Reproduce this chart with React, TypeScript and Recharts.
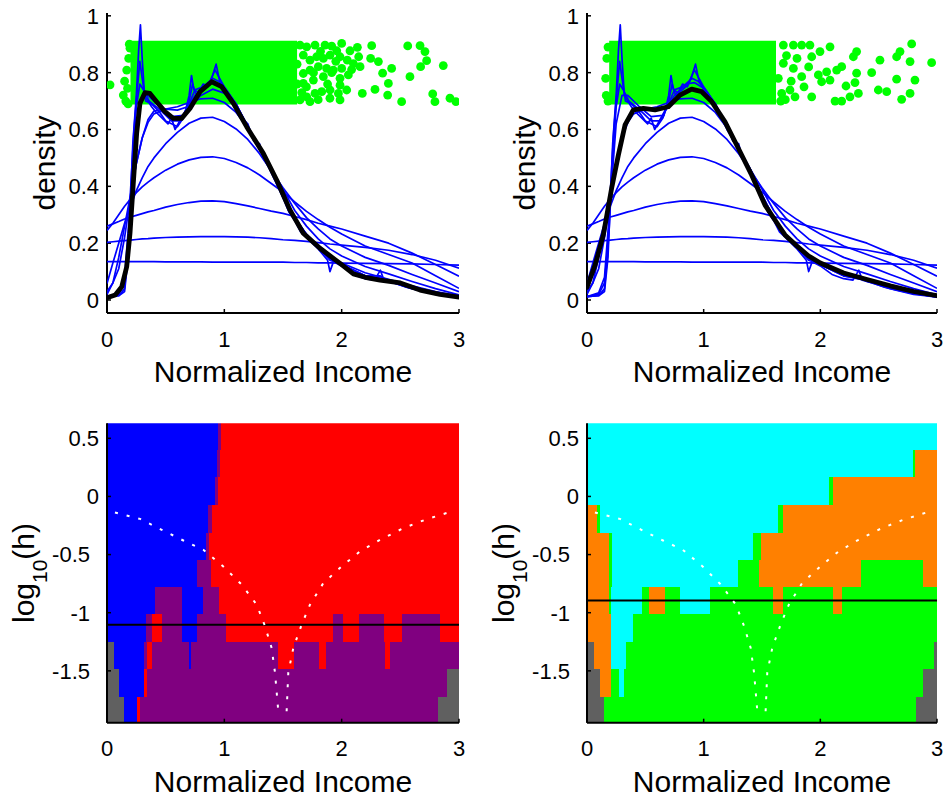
import React from 'react';
import { ComposedChart, XAxis, YAxis, Scatter, ReferenceArea, ReferenceLine } from 'recharts';

const FONT = '"Liberation Sans", Arial, Helvetica, sans-serif';

// ---------- axes ----------
const X_TICKS = [0, 1, 2, 3];
const X_DOMAIN = [0, 3];
const DENSITY_TICKS = [0, 0.2, 0.4, 0.6, 0.8, 1];
const DENSITY_DOMAIN = [-0.0457, 1.0099];
const LOGH_TICKS = [-1.5, -1, -0.5, 0, 0.5];
const LOGH_DOMAIN = [-1.946, 0.629];

// ---------- family of kernel density estimates (common x grid) ----------
const X_GRID = [0, 0.05, 0.1, 0.15, 0.2, 0.25, 0.3, 0.35, 0.4, 0.5, 0.6, 0.7, 0.8, 0.9, 1.0, 1.1, 1.2, 1.3, 1.4, 1.5, 1.6, 1.7, 1.8, 1.9, 2.0, 2.2, 2.4, 2.6, 2.8, 3.0];
const BW1 = [0.135, 0.135, 0.135, 0.135, 0.135, 0.135, 0.135, 0.135, 0.135, 0.134, 0.134, 0.134, 0.134, 0.133, 0.133, 0.133, 0.133, 0.133, 0.133, 0.133, 0.132, 0.132, 0.131, 0.131, 0.130, 0.129, 0.128, 0.127, 0.125, 0.123];
const BW2 = [0.203, 0.205, 0.207, 0.209, 0.211, 0.213, 0.215, 0.216, 0.218, 0.220, 0.221, 0.222, 0.223, 0.223, 0.223, 0.222, 0.221, 0.219, 0.216, 0.212, 0.210, 0.206, 0.202, 0.197, 0.193, 0.185, 0.175, 0.160, 0.140, 0.112];
const BW3 = [0.260, 0.268, 0.276, 0.285, 0.292, 0.298, 0.304, 0.310, 0.315, 0.327, 0.336, 0.343, 0.348, 0.349, 0.346, 0.339, 0.331, 0.322, 0.313, 0.305, 0.294, 0.283, 0.270, 0.260, 0.250, 0.225, 0.200, 0.165, 0.125, 0.084];
const BW4 = [0.245, 0.270, 0.300, 0.330, 0.355, 0.378, 0.398, 0.415, 0.430, 0.457, 0.478, 0.493, 0.502, 0.504, 0.498, 0.484, 0.465, 0.440, 0.410, 0.380, 0.345, 0.312, 0.283, 0.256, 0.232, 0.190, 0.160, 0.130, 0.085, 0.041];
const BW5 = [0.058, 0.130, 0.200, 0.270, 0.330, 0.385, 0.430, 0.470, 0.500, 0.550, 0.590, 0.622, 0.640, 0.643, 0.628, 0.602, 0.565, 0.515, 0.455, 0.395, 0.340, 0.290, 0.250, 0.215, 0.190, 0.150, 0.122, 0.090, 0.060, 0.029];
const BW6 = [0.030, 0.060, 0.110, 0.220, 0.360, 0.480, 0.570, 0.625, 0.655, 0.672, 0.680, 0.695, 0.708, 0.710, 0.695, 0.660, 0.605, 0.535, 0.460, 0.390, 0.315, 0.260, 0.215, 0.180, 0.155, 0.118, 0.092, 0.065, 0.040, 0.018];
const BW7 = [0.020, 0.060, 0.150, 0.260, 0.370, 0.480, 0.570, 0.635, 0.665, 0.672, 0.668, 0.682, 0.720, 0.742, 0.728, 0.684, 0.612, 0.534, 0.448, 0.360, 0.286, 0.232, 0.190, 0.156, 0.130, 0.096, 0.073, 0.050, 0.030, 0.015];

// small-bandwidth (wiggly) estimates, [x, density]
const BW8 = [[0, 0.012], [0.1, 0.025], [0.15, 0.08], [0.2, 0.35], [0.25, 0.62], [0.3, 0.72], [0.35, 0.72], [0.45, 0.68], [0.55, 0.645], [0.65, 0.65], [0.75, 0.72], [0.85, 0.76], [0.92, 0.765], [1.0, 0.745], [1.1, 0.69], [1.2, 0.61], [1.3, 0.53], [1.4, 0.45], [1.5, 0.365], [1.6, 0.29], [1.7, 0.23], [1.8, 0.185], [1.9, 0.148], [2.0, 0.125], [2.2, 0.085], [2.4, 0.068], [2.6, 0.045], [2.8, 0.025], [3, 0.012]];
const BW9 = [[0, 0.012], [0.1, 0.02], [0.15, 0.06], [0.19, 0.25], [0.22, 0.5], [0.25, 0.68], [0.28, 0.76], [0.31, 0.74], [0.36, 0.7], [0.45, 0.67], [0.55, 0.63], [0.62, 0.63], [0.7, 0.69], [0.75, 0.74], [0.82, 0.75], [0.9, 0.78], [0.95, 0.77], [1.0, 0.75], [1.1, 0.69], [1.2, 0.61], [1.3, 0.53], [1.4, 0.455], [1.5, 0.37], [1.6, 0.29], [1.7, 0.23], [1.8, 0.185], [1.9, 0.145], [2.0, 0.125], [2.2, 0.085], [2.35, 0.075], [2.5, 0.06], [2.7, 0.035], [2.85, 0.02], [3, 0.011]];
const BW10 = [[0, 0.012], [0.1, 0.015], [0.15, 0.04], [0.18, 0.18], [0.2, 0.38], [0.23, 0.6], [0.26, 0.75], [0.28, 0.84], [0.3, 0.78], [0.33, 0.7], [0.38, 0.69], [0.45, 0.66], [0.5, 0.63], [0.55, 0.62], [0.6, 0.61], [0.65, 0.64], [0.7, 0.7], [0.73, 0.76], [0.76, 0.72], [0.82, 0.74], [0.87, 0.76], [0.92, 0.81], [0.96, 0.78], [1.0, 0.75], [1.1, 0.69], [1.2, 0.6], [1.3, 0.53], [1.4, 0.46], [1.5, 0.37], [1.6, 0.29], [1.7, 0.23], [1.8, 0.185], [1.9, 0.14], [2.0, 0.125], [2.2, 0.085], [2.33, 0.085], [2.4, 0.065], [2.6, 0.04], [2.8, 0.022], [3, 0.011]];
const BW11 = [[0, 0.012], [0.1, 0.015], [0.15, 0.03], [0.18, 0.15], [0.2, 0.35], [0.22, 0.55], [0.25, 0.72], [0.27, 0.88], [0.285, 0.968], [0.3, 0.85], [0.32, 0.72], [0.35, 0.7], [0.38, 0.68], [0.42, 0.66], [0.47, 0.64], [0.52, 0.62], [0.55, 0.64], [0.58, 0.6], [0.62, 0.63], [0.66, 0.65], [0.7, 0.72], [0.72, 0.79], [0.74, 0.74], [0.78, 0.73], [0.82, 0.76], [0.86, 0.75], [0.9, 0.79], [0.93, 0.83], [0.96, 0.77], [1.0, 0.74], [1.05, 0.71], [1.1, 0.69], [1.15, 0.64], [1.2, 0.62], [1.25, 0.56], [1.3, 0.55], [1.33, 0.5], [1.4, 0.46], [1.5, 0.36], [1.55, 0.31], [1.6, 0.28], [1.65, 0.24], [1.7, 0.22], [1.8, 0.18], [1.88, 0.14], [1.9, 0.1], [1.93, 0.135], [2.0, 0.12], [2.1, 0.09], [2.2, 0.075], [2.28, 0.07], [2.33, 0.105], [2.36, 0.07], [2.45, 0.06], [2.55, 0.045], [2.65, 0.035], [2.8, 0.02], [2.9, 0.015], [3, 0.01]];

// highlighted (black) estimates
const BLACK_LEFT = [[0, 0.008], [0.07, 0.018], [0.126, 0.047], [0.168, 0.117], [0.196, 0.235], [0.224, 0.41], [0.253, 0.587], [0.281, 0.692], [0.324, 0.73], [0.366, 0.727], [0.423, 0.698], [0.494, 0.663], [0.565, 0.639], [0.636, 0.639], [0.707, 0.674], [0.793, 0.733], [0.892, 0.768], [0.977, 0.751], [1.077, 0.692], [1.19, 0.61], [1.332, 0.516], [1.446, 0.422], [1.559, 0.317], [1.673, 0.235], [1.815, 0.182], [1.986, 0.129], [2.1, 0.092], [2.2, 0.08], [2.327, 0.07], [2.5, 0.06], [2.668, 0.035], [2.838, 0.02], [3, 0.01]];
const BLACK_RIGHT = [[0, 0.045], [0.069, 0.123], [0.14, 0.229], [0.211, 0.393], [0.269, 0.51], [0.326, 0.616], [0.397, 0.669], [0.483, 0.674], [0.583, 0.669], [0.697, 0.68], [0.797, 0.721], [0.897, 0.742], [0.983, 0.733], [1.069, 0.698], [1.183, 0.627], [1.297, 0.534], [1.411, 0.44], [1.526, 0.334], [1.64, 0.264], [1.697, 0.229], [1.8, 0.19], [1.9, 0.155], [2.0, 0.13], [2.2, 0.095], [2.4, 0.072], [2.6, 0.05], [2.8, 0.03], [3.0, 0.015]];

// jittered data points: dense core [x0, x1, y0, y1] plus individual points
const DENSE_LEFT = [0.2, 1.62, 0.688, 0.912];
const DENSE_RIGHT = [0.19, 1.62, 0.688, 0.912];
const GREEN_LEFT = [
  [0.026, 0.757], [0.139, 0.721], [0.168, 0.809], [0.18, 0.69], [0.196, 0.886], [0.15, 0.77], [0.175, 0.745], [0.185, 0.85], [0.19, 0.9], [0.16, 0.7],
  [1.645, 0.897], [1.702, 0.891], [1.773, 0.897], [1.858, 0.897], [1.915, 0.893], [2.0, 0.903],
  [1.673, 0.862], [1.73, 0.844], [1.787, 0.856], [1.844, 0.85], [1.901, 0.862], [1.958, 0.877], [1.986, 0.856],
  [2.048, 0.844], [2.1, 0.832], [2.157, 0.821], [2.085, 0.811],
  [1.673, 0.797], [1.73, 0.809], [1.801, 0.821], [1.872, 0.815], [1.929, 0.809], [2.0, 0.815],
  [1.673, 0.762], [1.759, 0.774], [1.844, 0.786], [1.915, 0.8], [1.986, 0.78], [2.057, 0.792],
  [1.645, 0.704], [1.702, 0.715], [1.73, 0.698], [1.773, 0.727], [1.83, 0.733], [1.901, 0.739], [1.972, 0.727], [1.986, 0.704], [1.986, 0.756], [2.043, 0.739],
  [1.66, 0.73], [1.7, 0.75], [1.76, 0.8], [1.82, 0.875], [1.88, 0.76], [1.95, 0.84], [1.8, 0.705], [1.9, 0.71], [1.62, 0.83], [1.62, 0.76],
  [2.071, 0.877], [2.134, 0.889], [2.145, 0.856], [2.256, 0.895], [2.247, 0.85], [2.313, 0.839], [2.426, 0.815], [2.349, 0.798], [2.398, 0.762], [2.392, 0.721], [2.284, 0.741], [2.176, 0.727],
  [2.563, 0.894], [2.668, 0.895], [2.71, 0.874], [2.724, 0.842], [2.673, 0.821], [2.866, 0.825], [2.582, 0.786], [2.511, 0.698], [2.776, 0.725], [2.795, 0.698], [2.923, 0.71], [2.974, 0.698],
];
const GREEN_RIGHT = [
  [0.16, 0.78], [0.165, 0.72], [0.17, 0.85], [0.18, 0.7], [0.18, 0.89],
  [1.683, 0.897], [1.769, 0.897], [1.84, 0.897], [1.911, 0.897], [2.083, 0.891], [1.997, 0.874], [1.926, 0.856],
  [2.311, 0.874], [2.283, 0.856], [2.511, 0.844], [2.683, 0.874], [2.654, 0.856], [2.769, 0.839], [2.783, 0.901], [2.954, 0.835],
  [2.183, 0.821], [2.14, 0.809], [2.054, 0.803], [2.083, 0.774], [2.311, 0.798], [2.44, 0.8],
  [2.22, 0.753], [2.297, 0.765], [2.326, 0.727], [2.254, 0.715], [2.497, 0.739], [2.569, 0.733], [2.654, 0.777], [2.811, 0.774], [2.769, 0.727], [2.697, 0.706],
  [2.126, 0.7], [2.183, 0.7], [1.926, 0.715], [2.011, 0.768], [1.983, 0.792], [1.769, 0.815], [1.683, 0.833], [1.84, 0.786], [1.74, 0.739], [1.669, 0.727], [1.783, 0.715],
  [1.64, 0.78], [1.71, 0.86], [1.8, 0.85], [1.86, 0.75], [1.75, 0.77], [1.66, 0.7], [1.9, 0.82], [1.7, 0.705],
];

// ---------- SiZer maps: log10(h) bin edges, then per row [x start, class] ----------
const ROW_EDGES = [0.629, 0.398, 0.163, -0.076, -0.312, -0.543, -0.782, -1.013, -1.249, -1.483, -1.722, -1.946];
const SIZER_LEFT = [
  [[0, 'B'], [0.95, 'P'], [0.975, 'R']],
  [[0, 'B'], [0.935, 'P'], [0.963, 'R']],
  [[0, 'B'], [0.92, 'P'], [0.95, 'R']],
  [[0, 'B'], [0.864, 'P'], [0.892, 'R']],
  [[0, 'B'], [0.844, 'P'], [0.872, 'R']],
  [[0, 'B'], [0.77, 'P'], [0.89, 'R']],
  [[0, 'B'], [0.409, 'P'], [0.636, 'B'], [0.821, 'P'], [0.957, 'R']],
  [[0, 'B'], [0.33, 'P'], [0.381, 'R'], [0.466, 'P'], [0.636, 'B'], [0.764, 'P'], [1.014, 'R'], [1.929, 'P'], [2.009, 'R'], [2.151, 'P'], [2.361, 'R'], [2.511, 'P'], [2.838, 'R']],
  [[0, 'G'], [0.06, 'B'], [0.313, 'P'], [0.34, 'R'], [0.381, 'P'], [0.696, 'B'], [0.713, 'P'], [1.46, 'R'], [1.594, 'P'], [1.81, 'R'], [1.866, 'P'], [2.369, 'R'], [2.412, 'P']],
  [[0, 'G'], [0.105, 'B'], [0.315, 'R'], [0.344, 'P'], [2.895, 'G']],
  [[0, 'G'], [0.145, 'B'], [0.253, 'R'], [0.281, 'P'], [2.824, 'G']],
];
const SIZER_RIGHT = [
  [[0, 'C']],
  [[0, 'C'], [2.791, 'N'], [2.814, 'O']],
  [[0, 'C'], [2.077, 'N'], [2.106, 'O']],
  [[0, 'O'], [0.083, 'N'], [0.111, 'C'], [1.634, 'N'], [1.683, 'O']],
  [[0, 'O'], [0.191, 'N'], [0.214, 'C'], [1.42, 'N'], [1.491, 'O']],
  [[0, 'O'], [0.191, 'N'], [0.214, 'C'], [1.291, 'N'], [1.477, 'O'], [2.349, 'N'], [2.877, 'O']],
  [[0, 'O'], [0.191, 'N'], [0.206, 'C'], [0.469, 'N'], [0.534, 'O'], [0.671, 'N'], [0.797, 'C'], [1.054, 'N'], [1.591, 'O'], [1.683, 'N'], [2.111, 'O'], [2.183, 'N']],
  [[0, 'O'], [0.206, 'C'], [0.391, 'N']],
  [[0, 'G'], [0.063, 'O'], [0.206, 'C'], [0.334, 'N'], [2.97, 'G']],
  [[0, 'G'], [0.111, 'O'], [0.206, 'N'], [0.277, 'C'], [0.314, 'N'], [2.877, 'G']],
  [[0, 'G'], [0.149, 'N'], [2.82, 'G']],
];
const H_LINE_LEFT = -1.103;
const H_LINE_RIGHT = -0.894;
// effective window (centre +- 2h) curves
const WINDOW_LEFT = [[0.068, -0.138], [0.281, -0.193], [0.466, -0.287], [0.651, -0.379], [0.821, -0.459], [0.991, -0.602], [1.148, -0.759], [1.276, -0.931], [1.347, -1.117], [1.403, -1.303], [1.432, -1.517], [1.46, -1.847]];
const WINDOW_RIGHT = [[1.531, -1.847], [1.545, -1.517], [1.588, -1.303], [1.659, -1.103], [1.73, -0.931], [1.844, -0.745], [2.0, -0.602], [2.156, -0.473], [2.327, -0.373], [2.526, -0.273], [2.71, -0.201], [2.909, -0.138]];

// ---------- styles ----------
const GREEN = '#00ff00';
const BLUE = '#0000ff';
const PALETTE_LEFT: Record<string, string> = { B: '#0000ff', R: '#ff0000', P: '#800080', G: '#606060' };
const PALETTE_RIGHT: Record<string, string> = { C: '#00ffff', O: '#ff8000', N: '#00ff00', G: '#606060' };
const TICK_FONT = 22;
const TITLE_FONT = 30;

const gridSeries = (ys: number[]) => X_GRID.map((x, i) => ({ x, y: ys[i] }));
const pairSeries = (pts: number[][]) => pts.map(([x, y]) => ({ x, y }));
const BLUE_SERIES = [
  gridSeries(BW1), gridSeries(BW2), gridSeries(BW3), gridSeries(BW4), gridSeries(BW5), gridSeries(BW6), gridSeries(BW7),
  pairSeries(BW8), pairSeries(BW9), pairSeries(BW10), pairSeries(BW11),
];

const fmt = (v: number) => String(v);
const GreenDot = (p: any) => <circle cx={p.cx} cy={p.cy} r={4.4} fill={GREEN} />;
const NoDot = () => null;

const XTick = (p: any) => (
  <text x={p.x} y={p.y} dy="0.71em" textAnchor="middle" fontSize={TICK_FONT} fontFamily={FONT} fill="#000">
    {fmt(p.payload.value)}
  </text>
);
const YTick = (p: any) => (
  <text x={p.x - (p.payload.value < 0 ? 9 : 0)} y={p.y} dy="0.36em" textAnchor="end" fontSize={TICK_FONT} fontFamily={FONT} fill="#000">
    {fmt(p.payload.value)}
  </text>
);

const AXIS_LINE = { stroke: '#000', strokeWidth: 2 };
const TICK_LINE = { stroke: '#000', strokeWidth: 1.5 };

type PanelGeom = { width: number; height: number; margin: any; yAxisWidth: number; xAxisHeight: number };

function DensityPanel({ g, dense, dots, black }: { g: PanelGeom; dense: number[]; dots: number[][]; black: number[][] }) {
  return (
    <ComposedChart width={g.width} height={g.height} margin={g.margin}>
      <ReferenceArea x1={dense[0]} x2={dense[1]} y1={dense[2]} y2={dense[3]} fill={GREEN} fillOpacity={1} stroke="none" ifOverflow="hidden" />
      <Scatter data={pairSeries(dots)} shape={GreenDot} isAnimationActive={false} />
      {BLUE_SERIES.map((s, i) => (
        <Scatter key={i} data={s} shape={NoDot} fill={BLUE} line={{ stroke: BLUE, strokeWidth: 1.7, strokeLinejoin: 'round' }} isAnimationActive={false} />
      ))}
      <Scatter data={pairSeries(black)} shape={NoDot} fill="#000" line={{ stroke: '#000', strokeWidth: 4.8, strokeLinejoin: 'round', strokeLinecap: 'round' }} isAnimationActive={false} />
      <XAxis dataKey="x" type="number" domain={X_DOMAIN} ticks={X_TICKS} interval={0} allowDataOverflow height={g.xAxisHeight}
        axisLine={AXIS_LINE} tickLine={TICK_LINE} tickSize={-4} tickMargin={22} tick={XTick} />
      <XAxis xAxisId="top" orientation="top" dataKey="x" type="number" domain={X_DOMAIN} ticks={X_TICKS} interval={0} allowDataOverflow height={0}
        axisLine={AXIS_LINE} tickLine={TICK_LINE} tickSize={-4} tick={false} />
      <YAxis dataKey="y" type="number" domain={DENSITY_DOMAIN} ticks={DENSITY_TICKS} interval={0} allowDataOverflow width={g.yAxisWidth}
        axisLine={AXIS_LINE} tickLine={TICK_LINE} tickSize={-4} tickMargin={12} tick={YTick} />
      <YAxis yAxisId="right" orientation="right" dataKey="y" type="number" domain={DENSITY_DOMAIN} ticks={DENSITY_TICKS} interval={0} allowDataOverflow width={0}
        axisLine={AXIS_LINE} tickLine={TICK_LINE} tickSize={-4} tick={false} />
    </ComposedChart>
  );
}

function SizerPanel({ g, rows, palette, hLine }: { g: PanelGeom; rows: any[][]; palette: Record<string, string>; hLine: number }) {
  const cells: React.ReactElement[] = [];
  rows.forEach((row, r) => {
    row.forEach((seg: any[], i: number) => {
      const xEnd = i + 1 < row.length ? row[i + 1][0] : X_DOMAIN[1];
      cells.push(
        <ReferenceArea key={`${r}-${i}`} x1={seg[0]} x2={xEnd} y1={ROW_EDGES[r + 1]} y2={ROW_EDGES[r]}
          fill={palette[seg[1]]} fillOpacity={1} stroke="none" ifOverflow="hidden" shapeRendering="crispEdges" />
      );
    });
  });
  const dotted = { stroke: '#ffffff', strokeWidth: 2, strokeDasharray: '3 9' };
  return (
    <ComposedChart width={g.width} height={g.height} margin={g.margin}>
      {cells}
      <ReferenceLine y={hLine} stroke="#000" strokeWidth={2} />
      <Scatter data={pairSeries(WINDOW_LEFT)} shape={NoDot} fill="#fff" line={dotted} isAnimationActive={false} />
      <Scatter data={pairSeries(WINDOW_RIGHT)} shape={NoDot} fill="#fff" line={dotted} isAnimationActive={false} />
      <XAxis dataKey="x" type="number" domain={X_DOMAIN} ticks={X_TICKS} interval={0} allowDataOverflow height={g.xAxisHeight}
        axisLine={AXIS_LINE} tickLine={TICK_LINE} tickSize={-4} tickMargin={22} tick={XTick} />
      <XAxis xAxisId="top" orientation="top" dataKey="x" type="number" domain={X_DOMAIN} ticks={X_TICKS} interval={0} allowDataOverflow height={0}
        axisLine={AXIS_LINE} tickLine={TICK_LINE} tickSize={-4} tick={false} />
      <YAxis dataKey="y" type="number" domain={LOGH_DOMAIN} ticks={LOGH_TICKS} interval={0} allowDataOverflow width={g.yAxisWidth}
        axisLine={AXIS_LINE} tickLine={TICK_LINE} tickSize={-4} tickMargin={12} tick={YTick} />
      <YAxis yAxisId="right" orientation="right" dataKey="y" type="number" domain={LOGH_DOMAIN} ticks={LOGH_TICKS} interval={0} allowDataOverflow width={0}
        axisLine={AXIS_LINE} tickLine={TICK_LINE} tickSize={-4} tick={false} />
    </ComposedChart>
  );
}

// ---------- layout ----------
const G_TL: PanelGeom = { width: 473, height: 400, margin: { top: 13, right: 14, bottom: 0, left: 0 }, yAxisWidth: 107, xAxisHeight: 87 };
const G_TR: PanelGeom = { width: 473, height: 400, margin: { top: 13, right: 9, bottom: 0, left: 0 }, yAxisWidth: 114, xAxisHeight: 87 };
const G_BL: PanelGeom = { width: 473, height: 397, margin: { top: 23.3, right: 14, bottom: 0, left: 0 }, yAxisWidth: 107, xAxisHeight: 74.3 };
const G_BR: PanelGeom = { width: 473, height: 397, margin: { top: 23.3, right: 9, bottom: 0, left: 0 }, yAxisWidth: 114, xAxisHeight: 74.3 };

const titleStyle = { fontFamily: FONT, fontSize: TITLE_FONT, fill: '#000' } as const;

function LogHLabel({ x, y }: { x: number; y: number }) {
  return (
    <text transform={`translate(${x},${y}) rotate(-90)`} textAnchor="middle" style={titleStyle}>
      log<tspan dy={13} fontSize={21}>10</tspan><tspan dy={-13}>(h)</tspan>
    </text>
  );
}

export default function App() {
  return (
    <div style={{ position: 'absolute', left: 0, top: 0, width: 946, height: 797, background: '#fff' }}>
      <div style={{ position: 'absolute', left: 0, top: 0 }}>
        <DensityPanel g={G_TL} dense={DENSE_LEFT} dots={GREEN_LEFT} black={BLACK_LEFT} />
      </div>
      <div style={{ position: 'absolute', left: 473, top: 0 }}>
        <DensityPanel g={G_TR} dense={DENSE_RIGHT} dots={GREEN_RIGHT} black={BLACK_RIGHT} />
      </div>
      <div style={{ position: 'absolute', left: 0, top: 400 }}>
        <SizerPanel g={G_BL} rows={SIZER_LEFT} palette={PALETTE_LEFT} hLine={H_LINE_LEFT} />
      </div>
      <div style={{ position: 'absolute', left: 473, top: 400 }}>
        <SizerPanel g={G_BR} rows={SIZER_RIGHT} palette={PALETTE_RIGHT} hLine={H_LINE_RIGHT} />
      </div>
      <svg width={946} height={797} style={{ position: 'absolute', left: 0, top: 0, pointerEvents: 'none' }}>
        <text x={283} y={382} textAnchor="middle" style={titleStyle}>Normalized Income</text>
        <text x={762} y={382} textAnchor="middle" style={titleStyle}>Normalized Income</text>
        <text x={283} y={792} textAnchor="middle" style={titleStyle}>Normalized Income</text>
        <text x={762} y={792} textAnchor="middle" style={titleStyle}>Normalized Income</text>
        <text transform="translate(55,163) rotate(-90)" textAnchor="middle" style={titleStyle}>density</text>
        <text transform="translate(535,163) rotate(-90)" textAnchor="middle" style={titleStyle}>density</text>
        <LogHLabel x={34} y={573} />
        <LogHLabel x={514} y={573} />
      </svg>
    </div>
  );
}
